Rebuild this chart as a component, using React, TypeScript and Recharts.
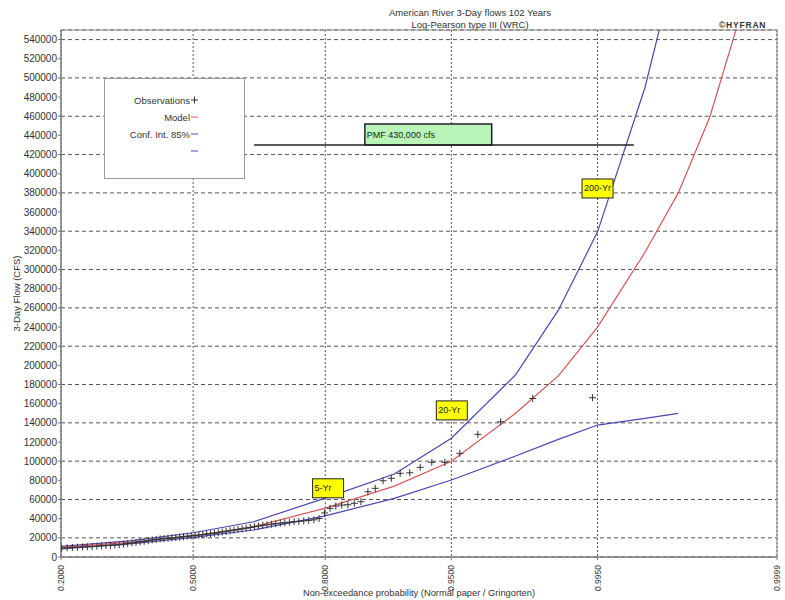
import React from "react";
import {
  ComposedChart,
  Line,
  Scatter,
  XAxis,
  YAxis,
  CartesianGrid,
  ReferenceArea,
  ReferenceLine,
  ReferenceDot,
  Legend,
} from "recharts";

// ---- data ----
const N_YEARS = 102;
const FIRST_VISIBLE_RANK = 21;

// sorted 3-day flows (cfs), ranks 21..102
const obsFlows = [
  9300, 9600, 9900, 10200, 10500, 10800, 11000, 11300, 11700, 12000,
  12300, 12500, 12800, 13400, 14100, 14700, 15300, 15800, 16400, 17000,
  17800, 18300, 18900, 19200, 19600, 19900, 20300, 20800, 21200, 21700,
  22100, 22500, 22900, 23400, 23900, 24300, 24800, 25400, 26000, 26700,
  27400, 28000, 28700, 29400, 30100, 30800, 31600, 32300, 33000, 33600,
  34200, 34800, 35300, 35800, 36300, 36800, 37200, 37700, 38200, 38800,
  40100, 46000, 50800, 53200, 54200, 54500, 56000, 57700, 68100, 71700,
  79600, 82100, 87300, 87900, 93600, 98800, 98800, 108200, 128000, 141100,
  165500, 166200,
];

const curveProbs = [0.2, 0.35, 0.5, 0.65, 0.8, 0.9, 0.95, 0.98, 0.99, 0.995, 0.998, 0.999, 0.9995, 0.9998];
const modelFlows = [10000, 15500, 22000, 31500, 51000, 74000, 100000, 150000, 189000, 240000, 318000, 380000, 459000, 595000];
const upperFlows = [11000, 17000, 25300, 36800, 61500, 86600, 124000, 190000, 257600, 339300, 490000, 630000];
const lowerFlows = [8500, 14000, 20500, 28200, 43000, 61200, 80300, 105400, 122800, 137700, 144700, 149900];

const xTickProbs = [0.2, 0.5, 0.8, 0.95, 0.995, 0.9999];
const yTicks = Array.from({ length: 28 }, (_, i) => i * 20000);
const Y_MAX = 550000;

const returnPeriodLabels = [
  { text: "5-Yr", prob: 0.805, flow: 71700 },
  { text: "20-Yr", prob: 0.9503, flow: 153000 },
  { text: "200-Yr", prob: 0.995, flow: 384600 },
];

const PMF_FLOW = 430000;
const pmfLine = { fromProb: 0.651, toProb: 0.9975 };
const pmfBox = { fromProb: 0.863, toProb: 0.9714, topFlow: 452000 };

// ---- styles ----
const RED = "#d65656";
const BLUE = "#4848b0";
const GRID = "#555";
const TEXT = "#333";
const FONT = "'Liberation Sans', Arial, sans-serif";

// inverse standard normal CDF (Acklam)
function normInv(p: number): number {
  const a = [-3.969683028665376e1, 2.209460984245205e2, -2.759285104469687e2, 1.38357751867269e2, -3.066479806614716e1, 2.506628277459239];
  const b = [-5.447609879822406e1, 1.615858368580409e2, -1.556989798598866e2, 6.680131188771972e1, -1.328068155288572e1];
  const c = [-7.784894002430293e-3, -3.223964580411365e-1, -2.400758277161838, -2.549732539343734, 4.374664141464968, 2.938163982698783];
  const d = [7.784695709041462e-3, 3.224671290700398e-1, 2.445134137142996, 3.754408661907416];
  const plow = 0.02425;
  if (p < plow) {
    const q = Math.sqrt(-2 * Math.log(p));
    return (((((c[0] * q + c[1]) * q + c[2]) * q + c[3]) * q + c[4]) * q + c[5]) /
      ((((d[0] * q + d[1]) * q + d[2]) * q + d[3]) * q + 1);
  }
  if (p > 1 - plow) {
    const q = Math.sqrt(-2 * Math.log(1 - p));
    return -(((((c[0] * q + c[1]) * q + c[2]) * q + c[3]) * q + c[4]) * q + c[5]) /
      ((((d[0] * q + d[1]) * q + d[2]) * q + d[3]) * q + 1);
  }
  const q = p - 0.5;
  const r = q * q;
  return ((((((a[0] * r + a[1]) * r + a[2]) * r + a[3]) * r + a[4]) * r + a[5]) * q) /
    (((((b[0] * r + b[1]) * r + b[2]) * r + b[3]) * r + b[4]) * r + 1);
}

const toCurve = (flows: number[]) => flows.map((y, i) => ({ x: normInv(curveProbs[i]), y }));
const modelData = toCurve(modelFlows);
const upperData = toCurve(upperFlows);
const lowerData = toCurve(lowerFlows);

// Gringorten plotting positions
const obsData = obsFlows.map((y, i) => {
  const rank = FIRST_VISIBLE_RANK + i;
  return { x: normInv((rank - 0.44) / (N_YEARS + 0.12)), y };
});

const xTicks = xTickProbs.map(normInv);
const X_MIN = xTicks[0];
const X_MAX = xTicks[xTicks.length - 1];

const PlusShape = (props: any) => {
  const { cx, cy } = props;
  if (cx == null || cy == null) return null;
  return <path d={`M${cx - 3.5},${cy}h7M${cx},${cy - 3.5}v7`} stroke="#333" strokeWidth={1} fill="none" />;
};

// probability labels on normal paper, rotated
const XTick = (props: any) => {
  const { x, y, payload } = props;
  let idx = 0;
  xTicks.forEach((t, i) => {
    if (Math.abs(t - payload.value) < Math.abs(xTicks[idx] - payload.value)) idx = i;
  });
  return (
    <text
      x={x}
      y={y + 3}
      transform={`rotate(-90, ${x}, ${y + 3})`}
      textAnchor="end"
      dominantBaseline="central"
      fontSize={8.5}
      fontFamily={FONT}
      fill={TEXT}
    >
      {xTickProbs[idx].toFixed(4)}
    </text>
  );
};

const YearTag = (props: any) => {
  const { cx, cy, text } = props;
  if (cx == null || cy == null) return null;
  const w = 31;
  const h = 19;
  return (
    <g>
      <rect x={cx - w / 2} y={cy - h / 2} width={w} height={h} fill="#ffff00" stroke="#222" strokeWidth={1} />
      <text x={cx - w / 2 + 2} y={cy} dominantBaseline="central" fontSize={9} fontFamily={FONT} fill="#222">
        {text}
      </text>
    </g>
  );
};

const legendRows = [
  { label: "Observations", kind: "plus", color: "#333" },
  { label: "Model", kind: "line", color: RED },
  { label: "Conf. Int. 85%", kind: "line", color: BLUE },
  { label: "", kind: "line", color: BLUE },
];

const LegendBox = () => (
  <svg width={141} height={101} style={{ display: "block" }}>
    <rect x={0.5} y={0.5} width={140} height={100} fill="#fff" stroke="#999" />
    {legendRows.map((row, i) => {
      const y = 22 + i * 17;
      return (
        <g key={i}>
          <text x={86} y={y} textAnchor="end" dominantBaseline="central" fontSize={9.5} fontFamily={FONT} fill={TEXT}>
            {row.label}
          </text>
          {row.kind === "plus" ? (
            <path d={`M87,${y}h7M90.5,${y - 3.5}v7`} stroke={row.color} />
          ) : (
            <path d={`M87,${y}h7`} stroke={row.color} />
          )}
        </g>
      );
    })}
  </svg>
);

export default function App() {
  return (
    <div style={{ position: "absolute", left: 0, top: 0, width: 785, height: 600, background: "#fff", fontFamily: FONT }}>
      <div style={{ position: "absolute", left: 270, width: 400, top: 7, textAlign: "center", fontSize: 9.5, color: TEXT, lineHeight: "12px" }}>
        American River 3-Day flows 102 Years
        <br />
        Log-Pearson type III (WRC)
      </div>
      <div style={{ position: "absolute", left: 719, top: 20, fontSize: 8.5, letterSpacing: 0.8, fontWeight: "bold", color: TEXT }}>
        ©HYFRAN
      </div>

      <ComposedChart width={785} height={600} margin={{ top: 30, right: 8, bottom: 3, left: 5 }}>
        <CartesianGrid horizontal={true} vertical={false} stroke={GRID} strokeDasharray="4 3" />
        <CartesianGrid horizontal={false} vertical={true} stroke={GRID} strokeDasharray="2 2" />
        <XAxis
          type="number"
          dataKey="x"
          domain={[X_MIN, X_MAX]}
          ticks={xTicks}
          interval={0}
          allowDataOverflow
          height={40}
          tick={<XTick />}
          tickSize={3}
          stroke="#777"
          label={{ value: "Non-exceedance probability (Normal paper / Gringorten)", position: "insideBottom", offset: 1, fontSize: 9.3, fill: TEXT, fontFamily: FONT }}
        />
        <YAxis
          type="number"
          dataKey="y"
          domain={[0, Y_MAX]}
          ticks={yTicks}
          allowDataOverflow
          width={56}
          tickSize={3}
          tickMargin={1}
          stroke="#777"
          tick={{ fontSize: 10, fill: TEXT, fontFamily: FONT }}
          label={{ value: "3-Day Flow (CFS)", angle: -90, position: "insideLeft", offset: 12, style: { textAnchor: "middle" }, fontSize: 9.5, fill: TEXT, fontFamily: FONT }}
        />
        <ReferenceArea x1={X_MIN} x2={X_MAX} y1={0} y2={Y_MAX} fill="none" stroke="#888" strokeWidth={1} />

        <Line data={lowerData} dataKey="y" type="linear" stroke={BLUE} strokeWidth={1.2} dot={false} isAnimationActive={false} />
        <Line data={upperData} dataKey="y" type="linear" stroke={BLUE} strokeWidth={1.2} dot={false} isAnimationActive={false} />
        <Line data={modelData} dataKey="y" type="linear" stroke={RED} strokeWidth={1.2} dot={false} isAnimationActive={false} />
        <Scatter data={obsData} dataKey="y" shape={<PlusShape />} isAnimationActive={false} />

        <ReferenceLine
          segment={[
            { x: normInv(pmfLine.fromProb), y: PMF_FLOW },
            { x: normInv(pmfLine.toProb), y: PMF_FLOW },
          ]}
          stroke="#222"
          strokeWidth={1.5}
        />
        <ReferenceArea
          x1={normInv(pmfBox.fromProb)}
          x2={normInv(pmfBox.toProb)}
          y1={PMF_FLOW}
          y2={pmfBox.topFlow}
          fill="#b9f5b9"
          fillOpacity={1}
          stroke="#222"
          strokeWidth={1.5}
          label={{ value: "PMF 430,000 cfs", position: "insideLeft", offset: 2, fontSize: 9, fill: "#222", fontFamily: FONT }}
        />
        {returnPeriodLabels.map((t) => (
          <ReferenceDot
            key={t.text}
            x={normInv(t.prob)}
            y={t.flow}
            shape={(p: any) => <YearTag {...p} text={t.text} />}
          />
        ))}

        <Legend
          layout="vertical"
          align="center"
          verticalAlign="middle"
          wrapperStyle={{ left: 104, top: 78, width: 141, height: 101 }}
          content={() => <LegendBox />}
        />
      </ComposedChart>
    </div>
  );
}
